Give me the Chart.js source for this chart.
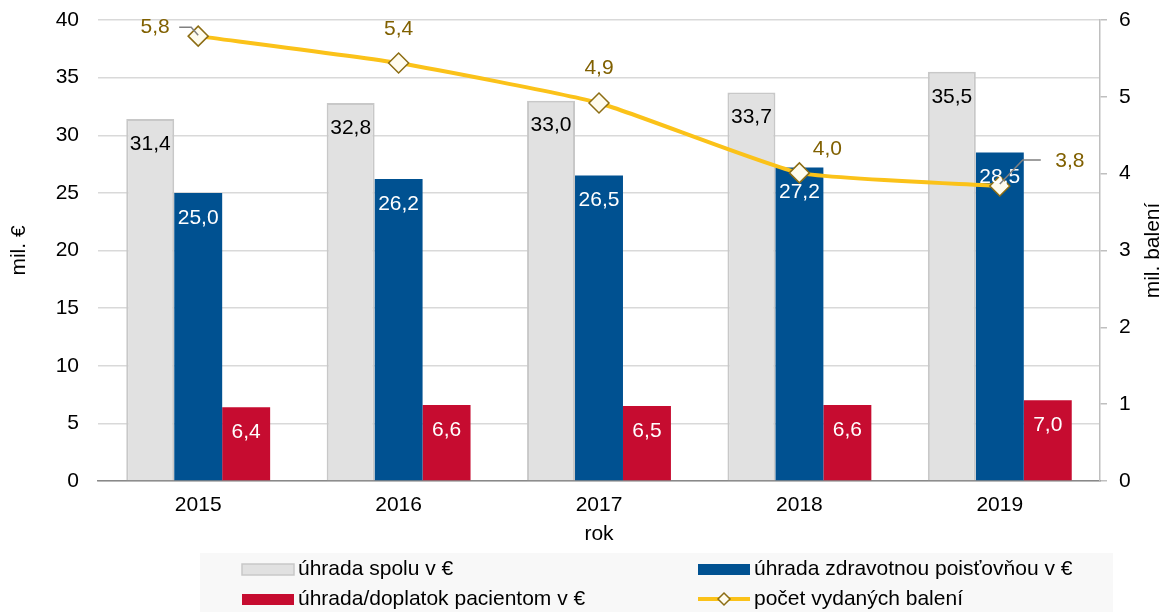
<!DOCTYPE html>
<html>
<head>
<meta charset="utf-8">
<script src="https://cdn.jsdelivr.net/npm/chart.js@4.4.1/dist/chart.umd.min.js"></script>
<style>
  body { margin: 0; background: #fff; }
  #wrap { width: 1167px; height: 612px; position: relative; }
</style>
</head>
<body>
<div id="wrap"><canvas id="chart"></canvas></div>
<script>
const years = ['2015', '2016', '2017', '2018', '2019'];
const totalPaid = [31.4, 32.8, 33.0, 33.7, 35.5];
const insurerPaid = [25.0, 26.2, 26.5, 27.2, 28.5];
const patientPaid = [6.4, 6.6, 6.5, 6.6, 7.0];
const packsIssued = [5.79, 5.44, 4.92, 4.01, 3.84];
const eurTicks = [0, 5, 10, 15, 20, 25, 30, 35, 40];
const packTicks = [0, 1, 2, 3, 4, 5, 6];

const FONT = "'Liberation Sans', Arial, sans-serif";
const fmt = (v) => v.toFixed(1).replace('.', ',');

// where the line labels sit relative to their diamond
const lineLabelSpots = [
  { dx: -43, dy: -9, leader: [[-19, -9], [-7, -9], [0, -1]] },
  { dx: 0, dy: -34 },
  { dx: 0, dy: -35 },
  { dx: 28, dy: -24 },
  { dx: 70, dy: -25, leader: [[41, -26], [23, -26], [0, -2]] },
];

const valueLabels = {
  id: 'valueLabels',
  afterDatasetsDraw(chart) {
    const ctx = chart.ctx;
    ctx.save();
    ctx.font = `21px ${FONT}`;
    ctx.textAlign = 'center';
    ctx.textBaseline = 'middle';
    chart.data.datasets.forEach((ds, i) => {
      const meta = chart.getDatasetMeta(i);
      if (ds.type === 'line') {
        meta.data.forEach((pt, j) => {
          const spot = lineLabelSpots[j];
          if (spot.leader) {
            ctx.strokeStyle = '#808080';
            ctx.lineWidth = 1.5;
            ctx.beginPath();
            spot.leader.forEach(([lx, ly], k) => {
              if (k === 0) ctx.moveTo(pt.x + lx, pt.y + ly);
              else ctx.lineTo(pt.x + lx, pt.y + ly);
            });
            ctx.stroke();
          }
          ctx.fillStyle = '#806000';
          ctx.fillText(fmt(ds.data[j]), pt.x + spot.dx, pt.y + spot.dy);
        });
      } else {
        ctx.fillStyle = ds.labelColor;
        meta.data.forEach((bar, j) => {
          ctx.fillText(fmt(ds.data[j]), bar.x, bar.y + 25);
        });
      }
    });
    ctx.restore();
  },
};

const sideTitleAndLegend = {
  id: 'sideTitleAndLegend',
  afterDraw(chart) {
    const ctx = chart.ctx;
    const area = chart.chartArea;
    ctx.save();
    ctx.font = `21px ${FONT}`;
    ctx.fillStyle = '#000';
    ctx.textAlign = 'center';
    ctx.textBaseline = 'middle';
    ctx.translate(1153, (area.top + area.bottom) / 2);
    ctx.rotate(-Math.PI / 2);
    ctx.fillText('mil. balení', 0, 0);
    ctx.restore();

    // legend box, two columns
    ctx.save();
    ctx.fillStyle = '#F8F8F8';
    ctx.fillRect(200, 553, 913, 59);
    const ds = chart.data.datasets;
    const slots = [
      { d: ds[0], x: 242, y: 569 },
      { d: ds[2], x: 242, y: 599 },
      { d: ds[1], x: 698, y: 569 },
      { d: ds[3], x: 698, y: 599 },
    ];
    ctx.font = `21px ${FONT}`;
    ctx.textBaseline = 'middle';
    slots.forEach(({ d, x, y }) => {
      const w = 52;
      if (d.type === 'line') {
        ctx.strokeStyle = d.borderColor;
        ctx.lineWidth = 4;
        ctx.beginPath();
        ctx.moveTo(x, y);
        ctx.lineTo(x + w, y);
        ctx.stroke();
        ctx.fillStyle = d.pointBackgroundColor;
        ctx.strokeStyle = d.pointBorderColor;
        ctx.lineWidth = 1.5;
        ctx.beginPath();
        ctx.moveTo(x + w / 2, y - 6);
        ctx.lineTo(x + w / 2 + 6, y);
        ctx.lineTo(x + w / 2, y + 6);
        ctx.lineTo(x + w / 2 - 6, y);
        ctx.closePath();
        ctx.fill();
        ctx.stroke();
      } else {
        ctx.fillStyle = d.backgroundColor;
        ctx.fillRect(x, y - 5, w, 11);
        if (d.legendBorder) {
          ctx.strokeStyle = d.legendBorder;
          ctx.lineWidth = 1.5;
          ctx.strokeRect(x, y - 5, w, 11);
        }
      }
      ctx.fillStyle = '#000';
      ctx.textAlign = 'left';
      ctx.fillText(d.label, x + w + 4, y);
    });
    ctx.restore();
  },
};

const barCommon = {
  categoryPercentage: 0.718,
  barPercentage: 1.0,
  yAxisID: 'y',
  order: 1,
};

new Chart(document.getElementById('chart'), {
  type: 'bar',
  data: {
    labels: years,
    datasets: [
      {
        ...barCommon,
        label: 'úhrada spolu v €',
        data: totalPaid,
        backgroundColor: '#E1E1E1',
        borderColor: '#C8C8C8',
        borderWidth: { top: 2, left: 2, right: 2, bottom: 0 },
        legendBorder: '#C8C8C8',
        labelColor: '#000',
      },
      {
        ...barCommon,
        label: 'úhrada zdravotnou poisťovňou v €',
        data: insurerPaid,
        backgroundColor: '#005191',
        labelColor: '#fff',
      },
      {
        ...barCommon,
        label: 'úhrada/doplatok pacientom v €',
        data: patientPaid,
        backgroundColor: '#C60C30',
        labelColor: '#fff',
      },
      {
        type: 'line',
        label: 'počet vydaných balení',
        data: packsIssued,
        yAxisID: 'y1',
        order: 0,
        borderColor: '#FBC219',
        borderWidth: 4,
        tension: 0.15,
        pointStyle: 'rectRot',
        pointRadius: 10,
        pointBackgroundColor: '#FFFCEE',
        pointBorderColor: '#8C6D14',
        pointBorderWidth: 1.5,
        clip: false,
      },
    ],
  },
  options: {
    responsive: true,
    maintainAspectRatio: false,
    animation: false,
    layout: { padding: { top: 20, right: 0, bottom: 62, left: 0 } },
    plugins: {
      legend: { display: false },
      tooltip: { enabled: false },
    },
    scales: {
      x: {
        offset: true,
        grid: { display: false, drawTicks: false },
        border: { color: '#898989', width: 1.5 },
        ticks: { color: '#000', font: { family: FONT, size: 21 }, padding: 12 },
        title: {
          display: true,
          text: 'rok',
          color: '#000',
          font: { family: FONT, size: 21 },
          padding: { top: 0, bottom: 3 },
        },
        afterFit: (scale) => { scale.height = 69; },
      },
      y: {
        position: 'left',
        min: 0,
        max: 40,
        afterBuildTicks: (scale) => { scale.ticks = eurTicks.map((v) => ({ value: v })); },
        grid: { color: '#D9D9D9', lineWidth: 1.5, drawTicks: false },
        border: { display: false },
        ticks: { color: '#000', font: { family: FONT, size: 21 }, padding: 19 },
        title: {
          display: true,
          text: 'mil. €',
          color: '#000',
          font: { family: FONT, size: 21 },
          padding: { top: 7, bottom: 0 },
        },
        afterFit: (scale) => {
          scale.width = 98;
          scale.paddingTop = 0;
          scale.paddingBottom = 0;
        },
      },
      y1: {
        position: 'right',
        min: 0,
        max: 6,
        afterBuildTicks: (scale) => { scale.ticks = packTicks.map((v) => ({ value: v })); },
        grid: { drawOnChartArea: false, drawTicks: true, tickLength: 7, color: '#BFBFBF', lineWidth: 1.5 },
        border: { color: '#BFBFBF', width: 1.5 },
        ticks: { color: '#000', font: { family: FONT, size: 21 }, padding: 12 },
        afterFit: (scale) => {
          scale.width = 67;
          scale.paddingTop = 0;
          scale.paddingBottom = 0;
        },
      },
    },
  },
  plugins: [valueLabels, sideTitleAndLegend],
});
</script>
</body>
</html>
